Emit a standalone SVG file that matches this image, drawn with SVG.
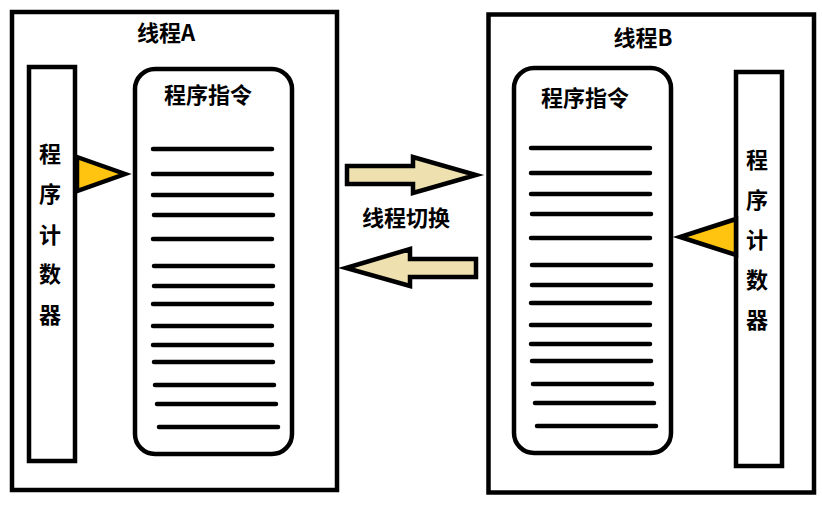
<svg xmlns="http://www.w3.org/2000/svg" width="822" height="505" viewBox="0 0 822 505">
<style>
.box{fill:#fff;stroke:#000;stroke-width:4.5}
.ln{stroke:#000;stroke-width:4.5;stroke-linecap:round}
.t{font-family:"Noto Sans CJK SC","Microsoft YaHei",sans-serif;font-weight:bold;font-size:22px;fill:#000;text-anchor:middle}
.tri{fill:#FFC410;stroke:#000;stroke-width:4.5;stroke-linejoin:miter}
.arr{fill:#EEE1AF;stroke:#000;stroke-width:4.5;stroke-linejoin:miter}
</style>
<rect width="822" height="505" fill="#fff"/>
<g id="threadA">
<rect class="box" x="12" y="12" width="325" height="478"/>
<text class="t" x="166" y="41">线程A</text>
</g>
<g id="instrA">
<rect class="box" x="135" y="69" width="157" height="385" rx="20"/>
<text class="t" x="208" y="103">程序指令</text>
<g>
<line class="ln" x1="153" y1="149" x2="272" y2="149"/>
<line class="ln" x1="153" y1="174" x2="272" y2="174"/>
<line class="ln" x1="153" y1="195" x2="272" y2="195"/>
<line class="ln" x1="154" y1="215" x2="273" y2="215"/>
<line class="ln" x1="153" y1="239" x2="272" y2="239"/>
<line class="ln" x1="154" y1="266" x2="273" y2="266"/>
<line class="ln" x1="154" y1="286" x2="273" y2="286"/>
<line class="ln" x1="153" y1="304" x2="272" y2="304"/>
<line class="ln" x1="153" y1="326" x2="272" y2="326"/>
<line class="ln" x1="153" y1="345" x2="272" y2="345"/>
<line class="ln" x1="154" y1="362" x2="273" y2="362"/>
<line class="ln" x1="155" y1="385" x2="274" y2="385"/>
<line class="ln" x1="157" y1="404" x2="276" y2="404"/>
<line class="ln" x1="159" y1="427" x2="278" y2="427"/>
</g>
</g>
<g id="pcA">
<rect class="box" x="29" y="67" width="46" height="394"/>
<text class="t" x="50" y="162">程</text>
<text class="t" x="50" y="202">序</text>
<text class="t" x="50" y="243">计</text>
<text class="t" x="50" y="282">数</text>
<text class="t" x="50" y="323">器</text>
<polygon class="tri" points="77,157 125,174 77,191"/>
</g>
<g id="threadB">
<rect class="box" x="488.5" y="14.5" width="325.5" height="478"/>
<text class="t" x="643" y="46">线程B</text>
</g>
<g id="instrB">
<rect class="box" x="514" y="68" width="157" height="385" rx="20"/>
<text class="t" x="585" y="106">程序指令</text>
<g>
<line class="ln" x1="531" y1="148" x2="650" y2="148"/>
<line class="ln" x1="531" y1="173" x2="650" y2="173"/>
<line class="ln" x1="531" y1="194" x2="650" y2="194"/>
<line class="ln" x1="532" y1="214" x2="651" y2="214"/>
<line class="ln" x1="531" y1="238" x2="650" y2="238"/>
<line class="ln" x1="532" y1="265" x2="651" y2="265"/>
<line class="ln" x1="532" y1="285" x2="651" y2="285"/>
<line class="ln" x1="531" y1="303" x2="650" y2="303"/>
<line class="ln" x1="531" y1="325" x2="650" y2="325"/>
<line class="ln" x1="531" y1="344" x2="650" y2="344"/>
<line class="ln" x1="532" y1="361" x2="651" y2="361"/>
<line class="ln" x1="533" y1="384" x2="652" y2="384"/>
<line class="ln" x1="535" y1="403" x2="654" y2="403"/>
<line class="ln" x1="537" y1="426" x2="656" y2="426"/>
</g>
</g>
<g id="pcB">
<rect class="box" x="736" y="72" width="46" height="394"/>
<text class="t" x="757" y="168">程</text>
<text class="t" x="757" y="208">序</text>
<text class="t" x="757" y="248">计</text>
<text class="t" x="757" y="288">数</text>
<text class="t" x="757" y="328">器</text>
<polygon class="tri" points="736,219 680,237 736,255"/>
</g>
<g id="connectors">
<polygon class="arr" points="347,166 413,166 413,157 476,175 413,193 413,184 347,184"/>
<polygon class="arr" points="476,259 410,259 410,249 346,268 410,286 410,277 476,277"/>
</g>
<g id="switch">
<text class="t" x="406" y="226">线程切换</text>
</g>
</svg>
